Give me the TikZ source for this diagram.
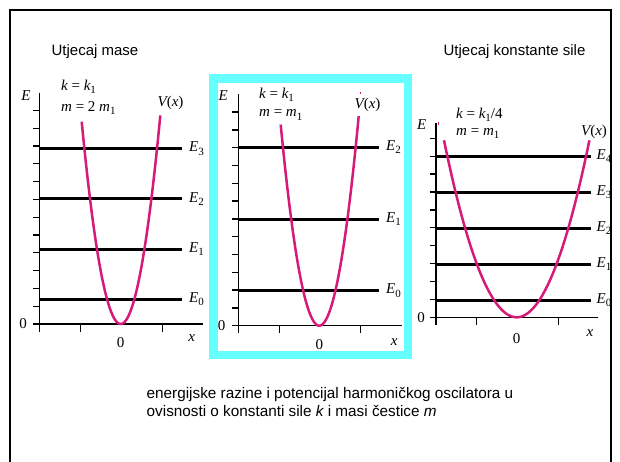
\documentclass[tikz,border=0pt]{standalone}
\usepackage{fontspec}
\setmainfont{Liberation Sans}
\newfontfamily\tms{Liberation Serif}
\definecolor{curvecol}{RGB}{214,26,120}
\definecolor{cyanframe}{RGB}{102,255,255}
\newcommand{\mi}[1]{{\itshape #1}}
\newcommand{\lev}[2]{\mi{#1}\raisebox{-3.2pt}{\fontsize{11}{12}\selectfont\upshape #2}}
\tikzset{
  axisline/.style={line width=1.3pt, black},
  levelline/.style={line width=2.8pt, black},
  para/.style={line width=2.5pt, curvecol, line join=round},
  mlab/.style={inner sep=0pt, font=\tms\fontsize{15}{17}\selectfont},
  slab/.style={inner sep=0pt, font=\fontsize{15}{18}\selectfont},
}
\begin{document}
\begin{tikzpicture}[x=1pt,y=-1pt]
\useasboundingbox (0,0) rectangle (620,461);
\clip (0,0) rectangle (620,461);
\fill[white] (0,0) rectangle (620,461);
\draw[line width=2pt] (10,10) rectangle (611,480);
\draw[cyanframe, line width=8.5pt] (213.3,78.3) rectangle (408,354.8);

% titles
\node[slab] (t1) at (95,52) {Utjecaj mase};
\node[slab] (t2) at (514.5,52) {Utjecaj konstante sile};
\node[inner sep=0pt, font=\fontsize{15.3}{18}\selectfont, anchor=north west, align=left] (cap) at (146.5,387)
  {energijske razine i potencijal harmoničkog oscilatora u\\ovisnosti o konstanti sile \mi{k} i masi čestice \mi{m}};

% ---------- panel 1 ----------
\draw[axisline] (39.5,92.7) -- (39.5,331.5);
\draw[axisline] (33,324) -- (203,324);
\foreach \n in {1,...,12} \draw[axisline] (33,{324-17.8*\n}) -- (39.5,{324-17.8*\n});
\foreach \xx in {80.7,162.7} \draw[axisline] (\xx,324) -- (\xx,331.5);
\foreach \n/\yy in {0/299.3,1/249.3,2/198.7,3/148.7}{
  \draw[levelline] (39.5,\yy) -- (181.7,\yy);
  \node[mlab, anchor=west] (pa\n) at (189,\yy) {\lev{E}{\n}};
}
\draw[para] plot[domain=-39:39.6, samples=60] ({120.7+\x},{324-0.133*\x*\x});
\node[mlab] (pa-E) at (26,96) {\mi{E}};
\node[mlab] (pa-z) at (23,324) {0};
\node[mlab] (pa-zx) at (120.7,343) {0};
\node[mlab] (pa-x) at (191.7,338) {\mi{x}};
\node[mlab] (pa-V) at (170.5,103) {\mi{V}(\mi{x})};
\node[mlab, anchor=west] (pa-k) at (61,87) {\mi{k} = \lev{k}{1}};
\node[mlab, anchor=west] (pa-m) at (61,108) {\mi{m} = 2 \lev{m}{1}};

% ---------- panel 2 ----------
\draw[axisline] (238.3,94) -- (238.3,333.2);
\draw[axisline] (231.8,325.7) -- (401.7,325.7);
\foreach \n in {1,...,12} \draw[axisline] (231.8,{325.7-17.8*\n}) -- (238.3,{325.7-17.8*\n});
\foreach \xx in {279.3,360.3} \draw[axisline] (\xx,325.7) -- (\xx,333.2);
\foreach \n/\yy in {0/290.7,1/219.3,2/147.3}{
  \draw[levelline] (238.3,\yy) -- (379,\yy);
  \node[mlab, anchor=west] (pb\n) at (386,\yy) {\lev{E}{\n}};
}
\draw[para] plot[domain=-38.6:39.4, samples=60] ({319.3+\x},{325.7-0.135*\x*\x});
\fill[curvecol] (360.2,91.8) rectangle (361.4,93.6);
\node[mlab] (pb-E) at (223.3,96) {\mi{E}};
\node[mlab] (pb-z) at (221.7,326) {0};
\node[mlab] (pb-zx) at (319.3,345) {0};
\node[mlab] (pb-x) at (394.3,341.7) {\mi{x}};
\node[mlab] (pb-V) at (367.5,105) {\mi{V}(\mi{x})};
\node[mlab, anchor=west] (pb-k) at (259,95) {\mi{k} = \lev{k}{1}};
\node[mlab, anchor=west] (pb-m) at (259,115) {\mi{m} = \lev{m}{1}};

% ---------- panel 3 ----------
\draw[axisline] (436,122.7) -- (436,324.8);
\draw[axisline] (429.5,317.3) -- (598.3,317.3);
\foreach \n in {1,...,10} \draw[axisline] (429.5,{317.3-17.9*\n}) -- (436,{317.3-17.9*\n});
\foreach \xx in {476.7,558.3} \draw[axisline] (\xx,317.3) -- (\xx,324.8);
\foreach \n/\yy in {0/300.3,1/264.3,2/228.3,3/192.3,4/156.3}{
  \draw[levelline] (436,\yy) -- (590.7,\yy);
  \node[mlab, anchor=west] (pc\n) at (596.5,\yy) {\lev{E}{\n}};
}
\draw[para] plot[domain=-72.7:72.7, samples=60] ({516.7+\x},{317.3-0.0335*\x*\x});
\fill[curvecol] (437.8,122.3) rectangle (438.9,124.5);
\node[mlab] (pc-E) at (421.7,125) {\mi{E}};
\node[mlab] (pc-z) at (421,317.3) {0};
\node[mlab] (pc-zx) at (516.7,338.3) {0};
\node[mlab] (pc-x) at (590,333.3) {\mi{x}};
\node[mlab] (pc-V) at (594,131.7) {\mi{V}(\mi{x})};
\node[mlab, anchor=west] (pc-k) at (456,115) {\mi{k} = \lev{k}{1}/4};
\node[mlab, anchor=west] (pc-m) at (456,133.3) {\mi{m} = \lev{m}{1}};
\end{tikzpicture}
\end{document}
